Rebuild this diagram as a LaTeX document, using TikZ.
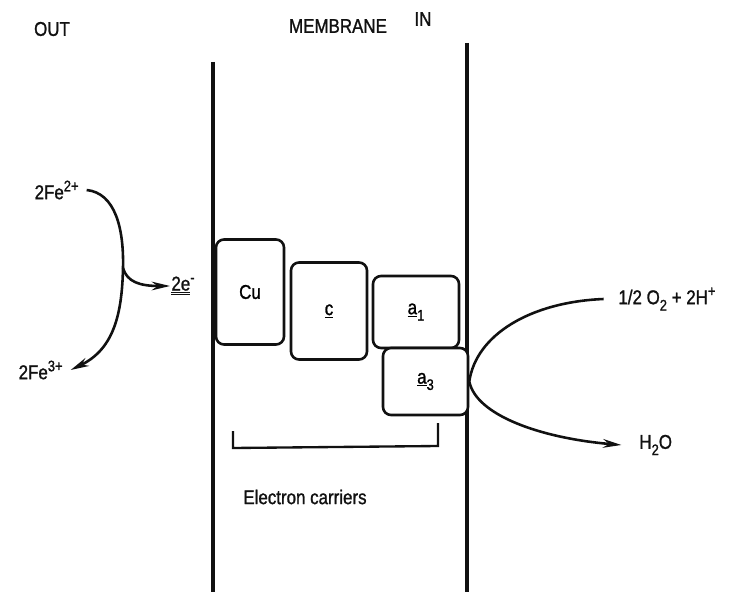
\documentclass[tikz,border=0pt]{standalone}
\usepackage{fontspec}
\setmainfont{Liberation Sans}[FakeStretch=0.85,FakeBold=1.2]
\usetikzlibrary{arrows.meta,positioning,calc}
\definecolor{ecInk}{HTML}{111111}
\newcommand{\upidx}[1]{\raisebox{0.75ex}{\fontsize{13}{13}\selectfont #1}}
\newcommand{\dnidx}[1]{\raisebox{-0.6ex}{\fontsize{13}{13}\selectfont #1}}
\tikzset{
  lbl/.style     ={font=\fontsize{17}{19}\selectfont,text=ecInk,inner sep=1pt},
  wall/.style    ={draw=ecInk,line width=2.6pt},
  carrier/.style ={draw=ecInk,line width=2.2pt,rounded corners=2.4mm,fill=white,
                   inner sep=0pt,font=\fontsize{17}{19}\selectfont},
  curve/.style   ={ecInk,line width=2.2pt},
  flow/.style    ={-{Stealth[length=5.5mm,width=2.6mm]},curve},
  bracket/.style ={ecInk,line width=2pt},
}
\begin{document}
\begin{tikzpicture}[x=0.03cm,y=-0.03cm]
\useasboundingbox (0,0) rectangle (729,592);
%% the two faces of the membrane
\draw[wall] (213,62) -- (213,592);
\draw[wall] (467,43) -- (467,592);
\node[lbl] (out) at (52,29) {OUT};
\node[lbl] (mem) at (338,26) {MEMBRANE};
\node[lbl] (in)  at (423,19) {IN};
%% carriers
\foreach \name/\cx/\cy/\w/\h/\txt in {
  cu/250/292/68/105/Cu,
  cc/329/311/76/97/{\underline{c}},
  aone/416/312/86/72/{\underline{a}\dnidx{1}},
  athree/425.5/381.5/85/67/{\underline{a}\dnidx{3}}}
{
  \node[carrier,minimum width=\w*0.3mm,minimum height=\h*0.3mm] (\name) at (\cx,\cy) {\txt};
}
\draw[bracket] (233,431) -- (233,448) -- (438,446) -- (438,423);
\node[lbl] (ec) at (305,497) {Electron carriers};
%% outside: iron
\node[lbl,anchor=east] (fetwo)   at (80,190) {2Fe\upidx{2+}};
\node[lbl,anchor=east] (fethree) at (64,370) {2Fe\upidx{3+}};
\node[lbl] (el) at (183,286) {\underline{\underline{2e}}\upidx{-}};
\coordinate (split) at (123,268);
\draw[flow] ([xshift=2mm]fetwo.east) .. controls (115,193) and (124,228) .. (split)
  .. controls (122,318) and (112,350) .. ([xshift=2mm]fethree.east);
\draw[flow] (split) .. controls (127,282) and (140,286) .. (el.west);
%% inside: oxygen
\node[lbl,anchor=west] (oxy) at (617,299) {1/2 O\dnidx{2} + 2H\upidx{+}};
\node[lbl,anchor=west] (water) at (638,445) {H\dnidx{2}O};
\draw[flow] ([xshift=-4mm]oxy.west) .. controls (530,302) and (476,335) .. (athree.east)
  .. controls (476,415) and (540,438) .. ([xshift=-5mm]water.west);
\end{tikzpicture}
\end{document}
